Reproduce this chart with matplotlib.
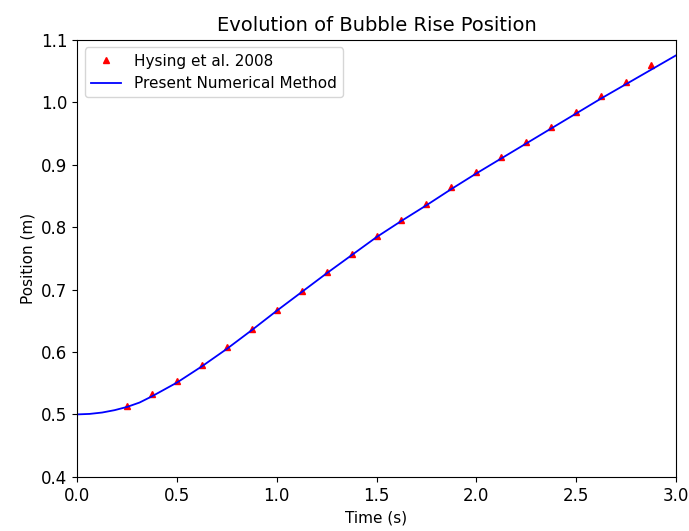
import matplotlib
matplotlib.use('Agg')
import matplotlib.pyplot as plt

# Hysing et al. 2008 reference points
t_ref = [0.25, 0.375, 0.5, 0.625, 0.75, 0.875, 1.0, 1.125, 1.25, 1.375, 1.5,
         1.625, 1.75, 1.875, 2.0, 2.125, 2.25, 2.375, 2.5, 2.625, 2.75, 2.875]
y_ref = [0.513, 0.532, 0.553, 0.579, 0.608, 0.637, 0.668, 0.698, 0.728, 0.757, 0.786,
         0.812, 0.837, 0.864, 0.888, 0.912, 0.936, 0.960, 0.984, 1.010, 1.033, 1.059]

# present numerical method
t_num = [0.0, 0.0625, 0.125, 0.1875, 0.25, 0.3125, 0.375, 0.4375, 0.5, 0.625, 0.75,
         0.875, 1.0, 1.125, 1.25, 1.375, 1.5, 1.625, 1.75, 1.875, 2.0, 2.125, 2.25,
         2.375, 2.5, 2.625, 2.75, 2.875, 3.0]
y_num = [0.500, 0.5008, 0.503, 0.5068, 0.512, 0.519, 0.529, 0.540, 0.551, 0.577, 0.605,
         0.635, 0.666, 0.696, 0.726, 0.755, 0.784, 0.810, 0.835, 0.861, 0.886, 0.910,
         0.934, 0.958, 0.982, 1.006, 1.029, 1.052, 1.075]

fig = plt.figure(figsize=(6.89, 5.31), dpi=100)
ax = fig.add_axes([0.112, 0.102, 0.869, 0.823])

ax.plot(t_ref, y_ref, '^', color='red', markersize=5, label='Hysing et al. 2008')
ax.plot(t_num, y_num, color='blue', linewidth=1.3, label='Present Numerical Method')

ax.set_xlim(0, 3.0)
ax.set_ylim(0.4, 1.1)
ax.set_title('Evolution of Bubble Rise Position', fontsize=14)
ax.set_xlabel('Time (s)', fontsize=11)
ax.set_ylabel('Position (m)', fontsize=11)
ax.tick_params(labelsize=12)
ax.legend(loc='upper left', fontsize=11)

fig.savefig('out.png')
